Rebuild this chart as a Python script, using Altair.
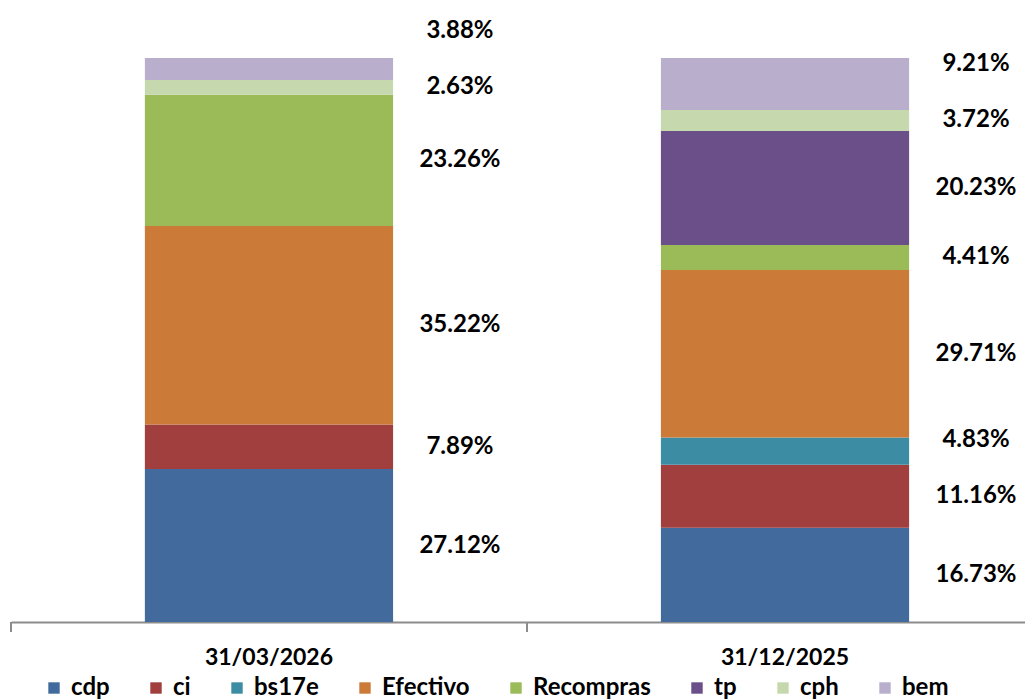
import altair as alt
import pandas as pd

categories = ["31/03/2026", "31/12/2025"]
series = ["cdp", "ci", "bs17e", "Efectivo", "Recompras", "tp", "cph", "bem"]
values_2026 = [27.12, 7.89, 0.0, 35.22, 23.26, 0.0, 2.63, 3.88]
values_2025 = [16.73, 11.16, 4.83, 29.71, 4.41, 20.23, 3.72, 9.21]
colors = ["#426A9C", "#A03F3D", "#3C8DA3", "#CC7A37", "#9BBB59", "#6A4F89", "#C6D8AE", "#B9AFCC"]

rows = []
for cat, vals in zip(categories, [values_2026, values_2025]):
    cum = 0.0
    last_pos = None
    for i, (s, v) in enumerate(zip(series, vals)):
        start = cum
        cum += v
        if v <= 0:
            continue
        mid = (start + cum) / 2
        pos = mid
        # simple label de-overlap: keep at least 10 units between labels
        if last_pos is not None and pos - last_pos < 10:
            pos = last_pos + 10
        last_pos = pos
        rows.append({"cat": cat, "series": s, "order": i, "value": v,
                     "label": f"{v:.2f}%", "label_pos": pos})
df = pd.DataFrame(rows)
cat_df = pd.DataFrame({"cat": categories})

FONT = "Lato"
FS = 24
AXIS_GRAY = "#8C8C8C"

x_scale = alt.Scale(paddingInner=0.519, paddingOuter=0.242, align=0.536)

bars = alt.Chart(df).mark_bar().encode(
    x=alt.X("cat:N", sort=categories, scale=x_scale,
            axis=alt.Axis(title=None, labelAngle=0, labelFont=FONT, labelFontSize=23,
                          labelFontWeight="bold", labelColor="#000000", labelPadding=24,
                          domainColor=AXIS_GRAY, domainWidth=2, ticks=False)),
    y=alt.Y("value:Q", stack="zero", scale=alt.Scale(domain=[0, 100]), axis=None),
    color=alt.Color("series:N", sort=series,
                    scale=alt.Scale(domain=series, range=colors),
                    legend=alt.Legend(title=None, orient="none", legendX=31, legendY=618,
                                      direction="horizontal", columns=8,
                                      symbolType="square", symbolSize=130,
                                      symbolStrokeWidth=0, labelFont=FONT, labelFontSize=FS,
                                      labelFontWeight="bold", labelColor="#000000",
                                      columnPadding=34, labelOffset=5)),
    order=alt.Order("order:Q"),
)

ticks = alt.Chart(cat_df).mark_rule(color=AXIS_GRAY, strokeWidth=2, xOffset=-258).encode(
    x=alt.X("cat:N", sort=categories),
    y=alt.value(564),
    y2=alt.value(574),
)

labels = alt.Chart(df).mark_text(align="center", baseline="middle", dx=191,
                                 font=FONT, fontSize=FS, fontWeight="bold",
                                 color="#000000").encode(
    x=alt.X("cat:N", sort=categories),
    y=alt.Y("label_pos:Q"),
    text="label:N",
)

chart = alt.layer(bars, ticks, labels).properties(
    width=1014, height=564,
    autosize=alt.AutoSizeParams(type="none"),
    padding={"left": 3, "top": 50, "right": 0, "bottom": 84},
).configure_view(stroke=None).configure_axis(grid=False)

chart.save("out.html", embed_options={"renderer": "svg", "actions": False})
